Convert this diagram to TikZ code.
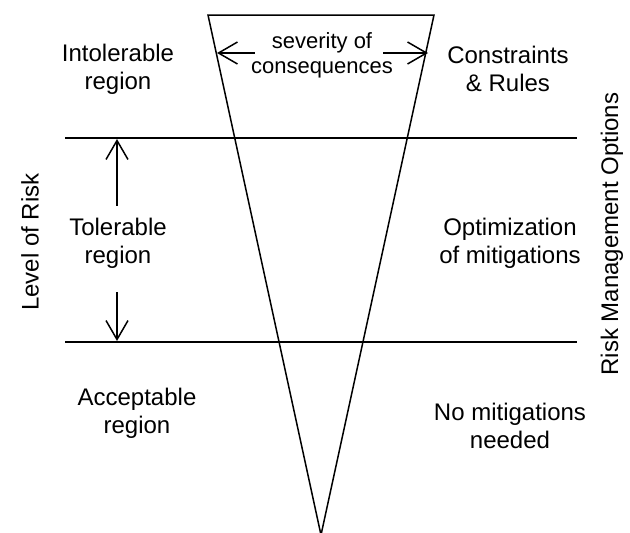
\documentclass[tikz,border=0pt]{standalone}
\usepackage{fontspec}
\setmainfont{Liberation Sans}
\usetikzlibrary{arrows.meta}
\begin{document}
\begin{tikzpicture}[x=1pt,y=-1pt,
  lbl/.style={align=center,font=\fontsize{24}{28}\selectfont,inner sep=0pt},
  sev/.style={align=center,font=\fontsize{22}{25}\selectfont,inner sep=0pt},
  ln/.style={line width=1.5pt},
  arr/.style={line width=1.5pt,-{Straight Barb[length=19pt,width=22pt,line width=1.5pt]}}]
\useasboundingbox (0,0) rectangle (630,533);
% funnel
\coordinate (tl) at (208,15);
\coordinate (tr) at (434,15);
\coordinate (ap) at (321,535);
\draw[ln,line join=miter] (tl) -- (tr) -- (ap) -- cycle;
% region boundaries
\coordinate (l1a) at (65,138); \coordinate (l1b) at (577,138);
\coordinate (l2a) at (65,342); \coordinate (l2b) at (577,342);
\draw[ln] (l1a) -- (l1b);
\draw[ln] (l2a) -- (l2b);
% labels
\node[lbl] (intol) at (118,69) {Intolerable\\region};
\node[sev] (sevr) at (322,55) {severity of\\consequences};
\node[lbl] (cons) at (508,69) {Constraints\\\& Rules};
\node[lbl] (tol) at (118,243) {Tolerable\\region};
\node[lbl] (opt) at (510,243) {Optimization\\of mitigations};
\node[lbl] (acc) at (137,413) {Acceptable\\region};
\node[lbl] (nomit) at (510,426) {No mitigations\\needed};
\node[lbl,rotate=90] (lor) at (30,242) {Level of Risk};
\node[lbl,rotate=90] (rmo) at (612,234) {Risk Management Options};
% arrows
\coordinate (sl) at (217,53);
\coordinate (sr) at (428,53);
\draw[arr] (sevr.west |- sl) ++(4,0) coordinate (slst) -- (sl);
\draw[arr] (sevr.east |- sr) ++(-10,0) coordinate (srst) -- (sr);
\coordinate (ut) at (117,139);
\coordinate (dt) at (117,341);
\draw[arr] (tol.north -| ut) ++(0,-12) coordinate (ust) -- (ut);
\draw[arr] (tol.south -| dt) ++(0,24) coordinate (dst) -- (dt);
\end{tikzpicture}
\end{document}
